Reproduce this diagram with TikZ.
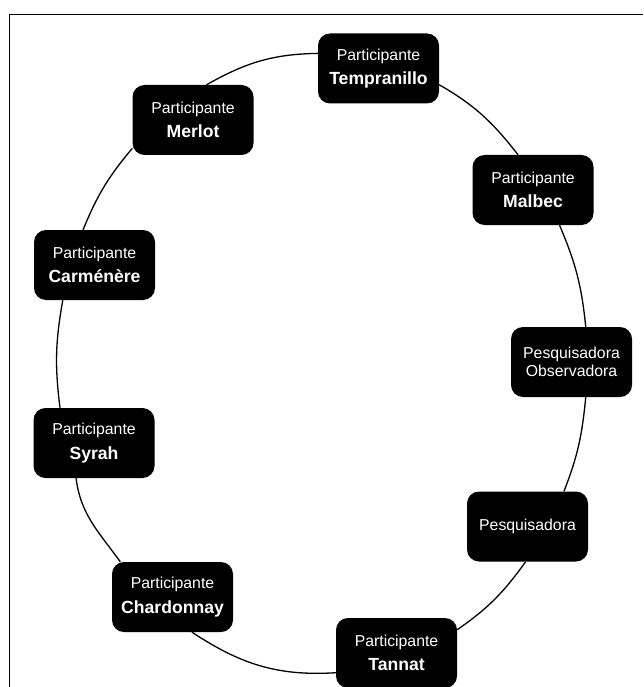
\documentclass[tikz,border=0pt]{standalone}
\usepackage{fontspec}
\setmainfont{Liberation Sans}
\begin{document}
\begin{tikzpicture}[x=1pt,y=1pt,
  box/.style={fill=black, rounded corners=12pt, minimum width=121pt, minimum height=70pt,
    text=white, align=center, inner sep=0pt, font=\fontsize{15.8}{18.5}\selectfont},
  link/.style={draw=black, line width=1.3pt},
  frame/.style={draw=black, line width=1.8pt}]
\useasboundingbox (0,0) rectangle (643,-687);
\newcommand{\partic}[1]{Participante\\[6pt]{\fontsize{17.6}{19}\selectfont\bfseries #1}}
\coordinate (fb) at (9.5,-687);
\coordinate (fc) at (9.5,-14.5);
\coordinate (fr) at (643,-14.5);
\draw[frame] (fb) -- (fc) -- (fr);

\node[box] (temp) at (378.5,-68.5) {\partic{Tempranillo}};
\node[box] (malb) at (533,-190) {\partic{Malbec}};
\node[box] (pobs) at (571.5,-362) {Pesquisadora\\Observadora};
\node[box] (pesq) at (527.5,-526.5) {Pesquisadora};
\node[box] (tann) at (396.5,-653) {\partic{Tannat}};
\node[box] (char) at (172.5,-597) {\partic{Chardonnay}};
\node[box] (syra) at (94,-443) {\partic{Syrah}};
\node[box] (carm) at (94.5,-265) {\partic{Carménère}};
\node[box] (merl) at (193,-120) {\partic{Merlot}};

\draw[link] (temp.-15.9) to[out=-29.8, in=128.0] (malb.113.2);
\draw[link] (malb.-53.3) to[out=-66.9, in=95.7] (pobs.68.6);
\draw[link] (pobs.-68.3) to[out=-95.4, in=68.6] (pesq.44.6);
\draw[link] (pesq.-93.9) to[out=-125.7, in=34.6] (tann.21.7);
\draw[link] (tann.-162.9) to[out=-176.5, in=-33.4] (char.-61.4);
\draw[link] (char.146.7) to[out=125.8, in=-82.8] (syra.-117.2);
\draw[link] (syra.134.3) to[out=97.2, in=-100.2] (carm.-132.3);
\draw[link] (carm.108.5) to[out=67.8, in=-130.0] (merl.-155.9);
\draw[link] (merl.69.2) to[out=29.5, in=181] (temp.166.6);
\end{tikzpicture}
\end{document}
